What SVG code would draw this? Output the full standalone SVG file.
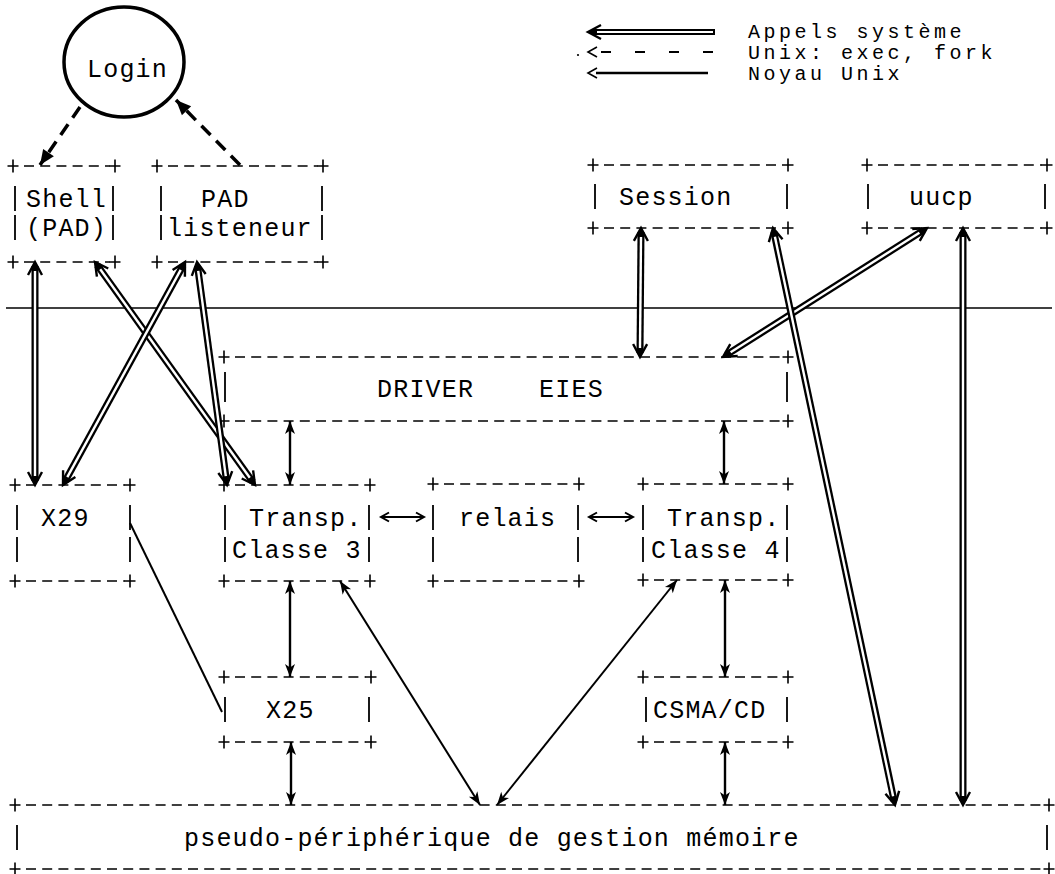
<svg xmlns="http://www.w3.org/2000/svg" width="1055" height="874" viewBox="0 0 1055 874">
<style>
.t{font-family:"Liberation Mono","DejaVu Sans Mono",monospace;font-size:25px;letter-spacing:1.2px;fill:#000}
.lg{font-size:20px;letter-spacing:3.5px}
.dash{stroke:#000;stroke-width:1.6;stroke-dasharray:10 6.2;fill:none}
.bar{stroke:#000;stroke-width:1.8}
.dO{stroke:#000;stroke-width:7}
.dI{stroke:#fff;stroke-width:2.4}
.dH{stroke:none;fill:none;marker-start:url(#dblHead);marker-end:url(#dblHead)}
.sA{stroke:#000;stroke-width:2.4;marker-start:url(#solidHead);marker-end:url(#solidHead)}
.sD{stroke:#000;stroke-width:2;marker-start:url(#solidHead);marker-end:url(#solidHead)}
.lr{stroke:#000;stroke-width:2;marker-start:url(#openSmall);marker-end:url(#openSmall)}
.ex{stroke:#000;stroke-width:3.5;stroke-dasharray:13 8;fill:none;marker-end:url(#dashHead)}
.thin{stroke:#000;stroke-width:2}
</style>
<defs>
<path id="plus" d="M-5.5,0H5.5M0,-6.5V6.5" stroke="#000" stroke-width="1.6"/>
<marker id="dblHead" markerUnits="userSpaceOnUse" orient="auto-start-reverse" refX="0" refY="0" markerWidth="30" markerHeight="30" style="overflow:visible">
<path d="M-13,-7 L0,0 L-13,7" fill="none" stroke="#000" stroke-width="2.4"/>
<path d="M-8,-3.4 L0,0 L-8,3.4 Z" fill="#000"/>
</marker>
<marker id="solidHead" markerUnits="userSpaceOnUse" orient="auto-start-reverse" refX="0" refY="0" markerWidth="30" markerHeight="30" style="overflow:visible">
<path d="M0,0 L-13,-5 L-9.5,0 L-13,5 Z" fill="#000"/>
</marker>
<marker id="openSmall" markerUnits="userSpaceOnUse" orient="auto-start-reverse" refX="0" refY="0" markerWidth="20" markerHeight="20" style="overflow:visible">
<path d="M-8,-4.5 L0,0 L-8,4.5" fill="none" stroke="#000" stroke-width="2"/>
</marker>
<marker id="dashHead" markerUnits="userSpaceOnUse" orient="auto" refX="0" refY="0" markerWidth="30" markerHeight="30" style="overflow:visible">
<path d="M0,0 L-15,-6.5 L-15,6.5 Z" fill="#000"/>
</marker>
</defs>
<rect x="0" y="0" width="1055" height="874" fill="#fff"/>

<g id="legend">
<line class="dO" x1="592" y1="32" x2="715" y2="32" style="stroke-width:6"/>
<line class="dI" x1="597" y1="32" x2="713" y2="32" style="stroke-width:1.8"/>
<line class="dH" x1="715" y1="32" x2="588" y2="32" style="marker-start:none"/>
<text class="t lg" x="748" y="38">Appels système</text>
<circle cx="578" cy="55" r="1.1" fill="#000"/>
<polyline points="597,47 588,52 597,57" fill="none" stroke="#000" stroke-width="1.6"/>
<line x1="601" y1="52" x2="714" y2="52" stroke="#000" stroke-width="1.8" stroke-dasharray="10 24"/>
<text class="t lg" x="748" y="59">Unix: exec, fork</text>
<polyline points="597,68 588,73 597,78" fill="none" stroke="#000" stroke-width="1.6"/>
<line x1="596" y1="73" x2="708" y2="73" stroke="#000" stroke-width="2.6"/>
<text class="t lg" x="748" y="80">Noyau Unix</text>
</g>

<g id="separator">
<line x1="6" y1="308" x2="1052" y2="308" stroke="#000" stroke-width="1.3"/>
</g>

<g id="node-login">
<ellipse cx="124" cy="62" rx="60" ry="55" fill="none" stroke="#000" stroke-width="3.5"/>
<text class="t" x="87" y="77">Login</text>
</g>

<g id="node-shell">
<line class="dash" x1="24" y1="166" x2="110" y2="166"/>
<line class="dash" x1="24" y1="262" x2="110" y2="262"/>
<use href="#plus" x="13" y="166"/><use href="#plus" x="115" y="166"/>
<use href="#plus" x="13" y="262"/><use href="#plus" x="115" y="262"/>
<line class="bar" x1="15" y1="186" x2="15" y2="211"/><line class="bar" x1="15" y1="215" x2="15" y2="240"/>
<line class="bar" x1="113" y1="186" x2="113" y2="211"/><line class="bar" x1="113" y1="215" x2="113" y2="240"/>
<text class="t" x="26" y="207">Shell</text>
<text class="t" x="26" y="236">(PAD)</text>
</g>

<g id="node-pad">
<line class="dash" x1="168" y1="166" x2="318" y2="166"/>
<line class="dash" x1="168" y1="262" x2="318" y2="262"/>
<use href="#plus" x="157" y="166"/><use href="#plus" x="323" y="166"/>
<use href="#plus" x="157" y="262"/><use href="#plus" x="323" y="262"/>
<line class="bar" x1="161" y1="186" x2="161" y2="211"/><line class="bar" x1="161" y1="215" x2="161" y2="240"/>
<line class="bar" x1="322" y1="186" x2="322" y2="211"/><line class="bar" x1="322" y1="215" x2="322" y2="240"/>
<text class="t" x="201" y="207">PAD</text>
<text class="t" x="167" y="236">listeneur</text>
</g>

<g id="node-session">
<line class="dash" x1="604" y1="165" x2="783" y2="165"/>
<line class="dash" x1="604" y1="228" x2="783" y2="228"/>
<use href="#plus" x="593" y="165"/><use href="#plus" x="788" y="165"/>
<use href="#plus" x="593" y="228"/><use href="#plus" x="788" y="228"/>
<line class="bar" x1="595" y1="184" x2="595" y2="209"/><line class="bar" x1="787" y1="184" x2="787" y2="209"/>
<text class="t" x="619" y="205">Session</text>
</g>

<g id="node-uucp">
<line class="dash" x1="878" y1="165" x2="1042" y2="165"/>
<line class="dash" x1="878" y1="228" x2="1042" y2="228"/>
<use href="#plus" x="867" y="165"/><use href="#plus" x="1047" y="165"/>
<use href="#plus" x="867" y="228"/><use href="#plus" x="1047" y="228"/>
<line class="bar" x1="868" y1="184" x2="868" y2="209"/><line class="bar" x1="1045" y1="184" x2="1045" y2="209"/>
<text class="t" x="909" y="205">uucp</text>
</g>

<g id="node-driver">
<line class="dash" x1="235" y1="357" x2="783" y2="357"/>
<line class="dash" x1="235" y1="421" x2="783" y2="421"/>
<use href="#plus" x="224" y="357"/><use href="#plus" x="788" y="357"/>
<use href="#plus" x="224" y="421"/><use href="#plus" x="788" y="421"/>
<line class="bar" x1="225" y1="372" x2="225" y2="402"/><line class="bar" x1="787" y1="372" x2="787" y2="402"/>
<text class="t" x="377" y="397" xml:space="preserve">DRIVER    EIES</text>
</g>

<g id="node-x29">
<line class="dash" x1="26" y1="485" x2="125" y2="485"/>
<line class="dash" x1="26" y1="581" x2="125" y2="581"/>
<use href="#plus" x="15" y="485"/><use href="#plus" x="130" y="485"/>
<use href="#plus" x="15" y="581"/><use href="#plus" x="130" y="581"/>
<line class="bar" x1="17" y1="505" x2="17" y2="530"/><line class="bar" x1="17" y1="537" x2="17" y2="562"/>
<line class="bar" x1="130" y1="505" x2="130" y2="530"/><line class="bar" x1="130" y1="537" x2="130" y2="562"/>
<text class="t" x="41" y="526">X29</text>
</g>

<g id="node-transp3">
<line class="dash" x1="235" y1="485" x2="365" y2="485"/>
<line class="dash" x1="235" y1="581" x2="365" y2="581"/>
<use href="#plus" x="224" y="485"/><use href="#plus" x="370" y="485"/>
<use href="#plus" x="224" y="581"/><use href="#plus" x="370" y="581"/>
<line class="bar" x1="225" y1="505" x2="225" y2="530"/><line class="bar" x1="225" y1="537" x2="225" y2="562"/>
<line class="bar" x1="369" y1="505" x2="369" y2="530"/><line class="bar" x1="369" y1="537" x2="369" y2="562"/>
<text class="t" x="249" y="526">Transp.</text>
<text class="t" x="232" y="558">Classe 3</text>
</g>

<g id="node-relais">
<line class="dash" x1="444" y1="484" x2="574" y2="484"/>
<line class="dash" x1="444" y1="581" x2="574" y2="581"/>
<use href="#plus" x="433" y="484"/><use href="#plus" x="579" y="484"/>
<use href="#plus" x="433" y="581"/><use href="#plus" x="579" y="581"/>
<line class="bar" x1="433" y1="505" x2="433" y2="530"/><line class="bar" x1="433" y1="537" x2="433" y2="562"/>
<line class="bar" x1="578" y1="505" x2="578" y2="530"/><line class="bar" x1="578" y1="537" x2="578" y2="562"/>
<text class="t" x="459" y="526">relais</text>
</g>

<g id="node-transp4">
<line class="dash" x1="654" y1="484" x2="783" y2="484"/>
<line class="dash" x1="654" y1="580" x2="783" y2="580"/>
<use href="#plus" x="643" y="484"/><use href="#plus" x="788" y="484"/>
<use href="#plus" x="643" y="580"/><use href="#plus" x="788" y="580"/>
<line class="bar" x1="643" y1="505" x2="643" y2="530"/><line class="bar" x1="643" y1="537" x2="643" y2="562"/>
<line class="bar" x1="787" y1="505" x2="787" y2="530"/><line class="bar" x1="787" y1="537" x2="787" y2="562"/>
<text class="t" x="667" y="526">Transp.</text>
<text class="t" x="651" y="558">Classe 4</text>
</g>

<g id="node-x25">
<line class="dash" x1="235" y1="677" x2="366" y2="677"/>
<line class="dash" x1="235" y1="742" x2="366" y2="742"/>
<use href="#plus" x="224" y="677"/><use href="#plus" x="371" y="677"/>
<use href="#plus" x="224" y="742"/><use href="#plus" x="371" y="742"/>
<line class="bar" x1="225" y1="697" x2="225" y2="722"/><line class="bar" x1="369" y1="697" x2="369" y2="722"/>
<text class="t" x="266" y="718">X25</text>
</g>

<g id="node-csma">
<line class="dash" x1="654" y1="677" x2="783" y2="677"/>
<line class="dash" x1="654" y1="742" x2="783" y2="742"/>
<use href="#plus" x="643" y="677"/><use href="#plus" x="788" y="677"/>
<use href="#plus" x="643" y="742"/><use href="#plus" x="788" y="742"/>
<line class="bar" x1="646" y1="697" x2="646" y2="722"/><line class="bar" x1="787" y1="697" x2="787" y2="722"/>
<text class="t" x="653" y="718">CSMA/CD</text>
</g>

<g id="node-memoire">
<line class="dash" x1="26" y1="805" x2="1044" y2="805"/>
<line class="dash" x1="26" y1="869" x2="1044" y2="869"/>
<use href="#plus" x="15" y="805"/><use href="#plus" x="1049" y="805"/>
<use href="#plus" x="15" y="869"/><use href="#plus" x="1049" y="869"/>
<line class="bar" x1="17" y1="825" x2="17" y2="850"/><line class="bar" x1="1047" y1="825" x2="1047" y2="850"/>
<text class="t" x="184" y="846">pseudo-périphérique de gestion mémoire</text>
</g>

<g id="connectors">
<line class="ex" x1="80" y1="107" x2="40" y2="165"/>
<line class="ex" x1="240" y1="165" x2="176" y2="100"/>

<line class="dO" x1="35" y1="266" x2="35" y2="481"/><line class="dI" x1="35" y1="271" x2="35" y2="476"/><line class="dH" x1="35" y1="262" x2="35" y2="485"/>
<line class="dO" x1="97.3" y1="265.2" x2="252.7" y2="481.8"/><line class="dI" x1="100.2" y1="269.3" x2="249.8" y2="477.7"/><line class="dH" x1="95" y1="262" x2="255" y2="485"/>
<line class="dO" x1="183.1" y1="265.5" x2="64.9" y2="481.5"/><line class="dI" x1="180.7" y1="269.9" x2="67.3" y2="477.1"/><line class="dH" x1="185" y1="262" x2="63" y2="485"/>
<line class="dO" x1="197.5" y1="266" x2="226.5" y2="481"/><line class="dI" x1="198.2" y1="270.9" x2="225.8" y2="476.1"/><line class="dH" x1="197" y1="262" x2="227" y2="485"/>
<line class="dO" x1="641" y1="232" x2="640" y2="353"/><line class="dI" x1="641" y1="237" x2="640" y2="348"/><line class="dH" x1="641" y1="228" x2="640" y2="357"/>
<line class="dO" x1="923.6" y1="230.1" x2="726.4" y2="354.9"/><line class="dI" x1="919.4" y1="232.8" x2="730.6" y2="352.2"/><line class="dH" x1="927" y1="228" x2="723" y2="357"/>
<line class="dO" x1="773.8" y1="231.9" x2="894.2" y2="801.1"/><line class="dI" x1="774.9" y1="236.8" x2="893.1" y2="796.2"/><line class="dH" x1="773" y1="228" x2="895" y2="805"/>
<line class="dO" x1="963" y1="232" x2="963" y2="801"/><line class="dI" x1="963" y1="237" x2="963" y2="796"/><line class="dH" x1="963" y1="228" x2="963" y2="805"/>

<line class="sA" x1="290" y1="421" x2="290" y2="485"/>
<line class="sA" x1="724" y1="421" x2="724" y2="484"/>
<line class="sA" x1="290" y1="581" x2="290" y2="677"/>
<line class="sA" x1="725" y1="580" x2="725" y2="677"/>
<line class="sA" x1="291" y1="742" x2="291" y2="805"/>
<line class="sA" x1="725" y1="742" x2="725" y2="805"/>
<line class="sD" x1="340" y1="581" x2="480" y2="805"/>
<line class="sD" x1="677" y1="580" x2="497" y2="805"/>

<line class="lr" x1="381" y1="517" x2="424" y2="517"/>
<line class="lr" x1="589" y1="517" x2="633" y2="517"/>

<line class="thin" x1="130" y1="523" x2="222" y2="712"/>
</g>
</svg>
